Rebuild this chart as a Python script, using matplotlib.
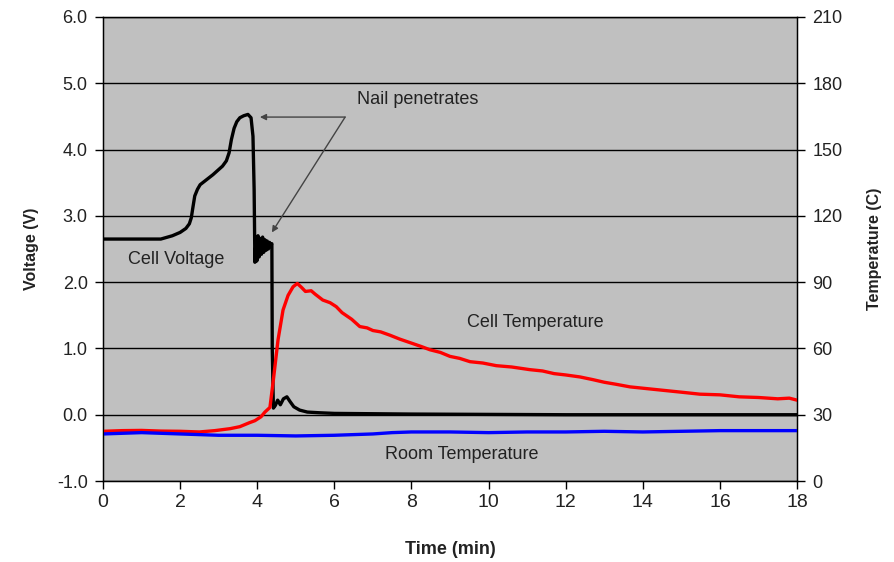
import numpy as np
import matplotlib
matplotlib.use("Agg")
import matplotlib.pyplot as plt

plt.rcParams['font.family'] = ['Liberation Sans', 'DejaVu Sans']

# cell voltage (V) vs time (min)
t_volt = [0, 1.5, 1.56, 1.8, 2.0, 2.15, 2.24, 2.29, 2.33, 2.38, 2.45, 2.52, 2.85, 3.1, 3.2,
          3.27, 3.33, 3.4, 3.47, 3.55, 3.65, 3.76, 3.84, 3.89, 3.92, 3.94,
          3.97, 3.99, 4.02, 4.05, 4.08, 4.11, 4.14, 4.17, 4.20, 4.23, 4.26, 4.29, 4.32, 4.35,
          4.38, 4.39, 4.42, 4.47, 4.53, 4.6, 4.68, 4.77, 4.85, 4.95, 5.1, 5.3, 5.6, 6.0,
          8.0, 12.0, 18.0]
volt = [2.65, 2.65, 2.66, 2.7, 2.75, 2.81, 2.88, 2.97, 3.12, 3.3, 3.4, 3.47, 3.62, 3.75, 3.83,
        3.95, 4.15, 4.32, 4.42, 4.48, 4.51, 4.53, 4.48, 4.2, 3.4, 2.3,
        2.65, 2.32, 2.7, 2.38, 2.66, 2.42, 2.68, 2.45, 2.64, 2.48, 2.62, 2.5, 2.6, 2.55,
        2.58, 1.0, 0.1, 0.14, 0.22, 0.15, 0.24, 0.27, 0.2, 0.12, 0.07, 0.04, 0.03, 0.02,
        0.01, 0.0, 0.0]

# cell temperature (C)
t_cell = [0, 0.5, 1.0, 1.5, 2.0, 2.5, 2.9, 3.3, 3.55, 3.8, 3.94, 4.1, 4.2, 4.33, 4.42,
          4.54, 4.67, 4.8, 4.93, 5.04, 5.15, 5.25, 5.4, 5.5, 5.7, 5.89, 6.05, 6.2, 6.45,
          6.66, 6.85, 7.0, 7.2, 7.44, 7.7, 8.0, 8.25, 8.48, 8.75, 9.0, 9.25, 9.52, 9.85,
          10.2, 10.6, 11.07, 11.4, 11.7, 12.0, 12.37, 12.7, 13.0, 13.3, 13.67, 14.0, 14.5,
          15.0, 15.48, 16.0, 16.5, 17.0, 17.5, 17.8, 18.0]
temp_cell = [22.5, 22.8, 22.9, 22.6, 22.5, 22.2, 22.8, 23.7, 24.6, 26.4, 27.3, 29.1, 31.2,
             33.3, 45.9, 63.9, 77.4, 84.0, 87.9, 89.4, 87.6, 85.8, 86.1, 84.6, 81.9, 80.7,
             78.9, 76.2, 73.2, 69.9, 69.3, 68.1, 67.5, 66.0, 64.2, 62.4, 60.9, 59.4, 58.2,
             56.4, 55.5, 54.0, 53.4, 52.2, 51.6, 50.4, 49.8, 48.6, 48.0, 47.1, 45.9, 44.7,
             43.8, 42.6, 42.0, 41.1, 40.2, 39.3, 39.0, 38.1, 37.8, 37.2, 37.5, 36.6]

# room temperature (C)
t_room = [0, 1, 2, 3, 4, 5, 6, 7, 7.5, 8, 9, 10, 11, 12, 13, 14, 15, 16, 17, 18]
temp_room = [21.3, 21.9, 21.3, 20.7, 20.7, 20.4, 20.7, 21.3, 21.9, 22.2, 22.2, 21.9, 22.2,
             22.2, 22.5, 22.2, 22.5, 22.8, 22.8, 22.8]

fig = plt.figure(figsize=(8.94, 5.62), dpi=100)
ax = fig.add_axes([0.1152, 0.1441, 0.7763, 0.8257])
ax.set_facecolor('#c0c0c0')
ax.set_xlim(0, 18)
ax.set_ylim(-1, 6)
ax.set_xticks(np.arange(0, 19, 2))
ax.set_yticks(np.arange(-1, 6.1, 1))
ax.set_yticklabels(['%.1f' % v for v in np.arange(-1, 6.1, 1)])
ax.grid(axis='y', color='black', lw=1)
ax.set_axisbelow(True)
ax.tick_params(axis='y', labelsize=13, length=6, width=1, pad=5, labelcolor='#222222')
ax.tick_params(axis='x', labelsize=14, length=6, width=1, pad=3, labelcolor='#222222')
for s in ax.spines.values():
    s.set_linewidth(1)

ax2 = ax.twinx()
ax2.set_ylim(0, 210)
ax2.set_yticks(np.arange(0, 211, 30))
ax2.tick_params(labelsize=13, length=6, width=1, pad=5, labelcolor='#222222')

ax.plot(t_volt, volt, color='black', lw=2.4, zorder=3)
ax2.plot(t_cell, temp_cell, color='#ff0000', lw=2.4)
ax2.plot(t_room, temp_room, color='#0000ff', lw=2.4)

ax.set_xlabel('Time (min)', fontsize=13, fontweight='bold', color='#222222', labelpad=22)
ax.set_ylabel('Voltage (V)', fontsize=11.5, fontweight='bold', color='#222222', labelpad=13)
ax2.set_ylabel('Temperature (C)', fontsize=11.5, fontweight='bold', color='#222222', labelpad=18)

txt = dict(fontsize=13, color='#222222', ha='center', va='center')
ax.text(1.9, 2.34, 'Cell Voltage', **txt)
ax.text(8.17, 4.76, 'Nail penetrates', **txt)
ax.text(11.2, 1.39, 'Cell Temperature', **txt)
ax.text(9.3, -0.6, 'Room Temperature', **txt)

arrow = dict(arrowstyle='-|>', color='#444444', lw=1, mutation_scale=9, shrinkA=0, shrinkB=0)
ax.annotate('', xy=(4.07, 4.49), xytext=(6.28, 4.49), arrowprops=arrow)
ax.annotate('', xy=(4.38, 2.75), xytext=(6.28, 4.49), arrowprops=arrow)

fig.savefig('out.png', dpi=100)
